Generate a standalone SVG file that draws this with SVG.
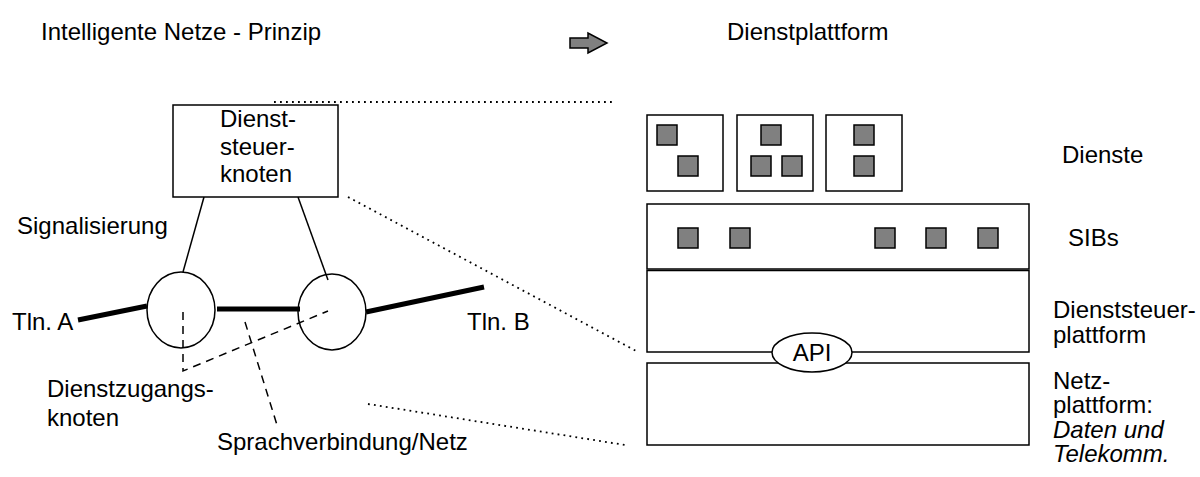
<svg xmlns="http://www.w3.org/2000/svg" width="1200" height="477" viewBox="0 0 1200 477">
<style>
text{font-family:"Liberation Sans",Arial,sans-serif;font-size:24px;fill:#000}
.box{fill:#fff;stroke:#000;stroke-width:1.5}
.sq{fill:#808080;stroke:#000;stroke-width:1.5}
.thin{stroke:#000;stroke-width:1.5;fill:none}
.thick{stroke:#000;stroke-width:5;fill:none}
.dash{stroke:#000;stroke-width:1.5;fill:none;stroke-dasharray:8 6}
.dot{stroke:#000;stroke-width:1.8;fill:none;stroke-dasharray:1.8 4.2}
</style>
<rect width="1200" height="477" fill="#fff"/>
<g id="titles">
<text x="41" y="40">Intelligente Netze - Prinzip</text>
<polygon points="570,38 588,38 588,33 607,43 588,53 588,48 570,48" fill="#808080" stroke="#000" stroke-width="1.5"/>
<text x="727" y="40">Dienstplattform</text>
</g>
<g id="connectors">
<line class="dot" x1="274" y1="102" x2="615" y2="102"/>
<line class="dot" x1="348" y1="197" x2="638" y2="352"/>
<line class="dot" x1="368" y1="404" x2="625" y2="445"/>
<line class="thin" x1="204" y1="197" x2="183" y2="272"/>
<line class="thin" x1="298" y1="197" x2="328" y2="280"/>
<line class="thick" x1="78" y1="320" x2="147" y2="306"/>
<line class="thick" x1="217" y1="309" x2="300" y2="309"/>
<line class="thick" x1="366" y1="312" x2="484" y2="287"/>
</g>
<g id="dsk">
<rect class="box" x="173" y="105" width="165" height="92"/>
<text x="220" y="127">Dienst-</text>
<text x="220" y="155">steuer-</text>
<text x="220" y="182">knoten</text>
</g>
<g id="dzk1"><ellipse cx="181" cy="310" rx="34" ry="38" class="thin"/></g>
<g id="dzk2"><ellipse cx="332" cy="312" rx="34" ry="38" class="thin"/></g>
<g id="dashes">
<polyline class="dash" points="183,312 183,371 328,311"/>
<line class="dash" x1="245" y1="322" x2="277" y2="425"/>
</g>
<g id="left-labels">
<text x="17" y="234">Signalisierung</text>
<text x="12" y="330">Tln. A</text>
<text x="467" y="330">Tln. B</text>
<text x="47" y="397">Dienstzugangs-</text>
<text x="47" y="426">knoten</text>
<text x="217" y="450">Sprachverbindung/Netz</text>
</g>
<g id="dienst1">
<rect class="box" x="647" y="115" width="76" height="76"/>
<rect class="sq" x="657" y="125" width="20" height="20"/>
<rect class="sq" x="678" y="156" width="20" height="20"/>
</g>
<g id="dienst2">
<rect class="box" x="737" y="115" width="76" height="76"/>
<rect class="sq" x="761" y="125" width="20" height="20"/>
<rect class="sq" x="751" y="156" width="20" height="20"/>
<rect class="sq" x="782" y="156" width="20" height="20"/>
</g>
<g id="dienst3">
<rect class="box" x="826" y="115" width="76" height="76"/>
<rect class="sq" x="854" y="125" width="20" height="20"/>
<rect class="sq" x="854" y="156" width="20" height="20"/>
</g>
<g id="sibs">
<rect class="box" x="647" y="204" width="382" height="65"/>
<rect class="sq" x="678" y="228" width="20" height="20"/>
<rect class="sq" x="730" y="228" width="20" height="20"/>
<rect class="sq" x="875" y="228" width="20" height="20"/>
<rect class="sq" x="926" y="228" width="20" height="20"/>
<rect class="sq" x="978" y="228" width="20" height="20"/>
</g>
<g id="dienststeuerplattform"><rect class="box" x="647" y="270.5" width="382" height="81.5"/></g>
<g id="netzplattform"><rect class="box" x="647" y="363" width="382" height="82"/></g>
<g id="api">
<ellipse cx="812" cy="352.5" rx="40" ry="19.5" fill="#fff" stroke="#000" stroke-width="1.5"/>
<text x="812" y="361" text-anchor="middle">API</text>
</g>
<g id="right-labels">
<text x="1062" y="163">Dienste</text>
<text x="1068" y="246">SIBs</text>
<text x="1053" y="318">Dienststeuer-</text>
<text x="1053" y="343">plattform</text>
<text x="1053" y="389">Netz-</text>
<text x="1053" y="413">plattform:</text>
<text x="1053" y="438" font-style="italic">Daten und</text>
<text x="1053" y="462" font-style="italic">Telekomm.</text>
</g>
</svg>
